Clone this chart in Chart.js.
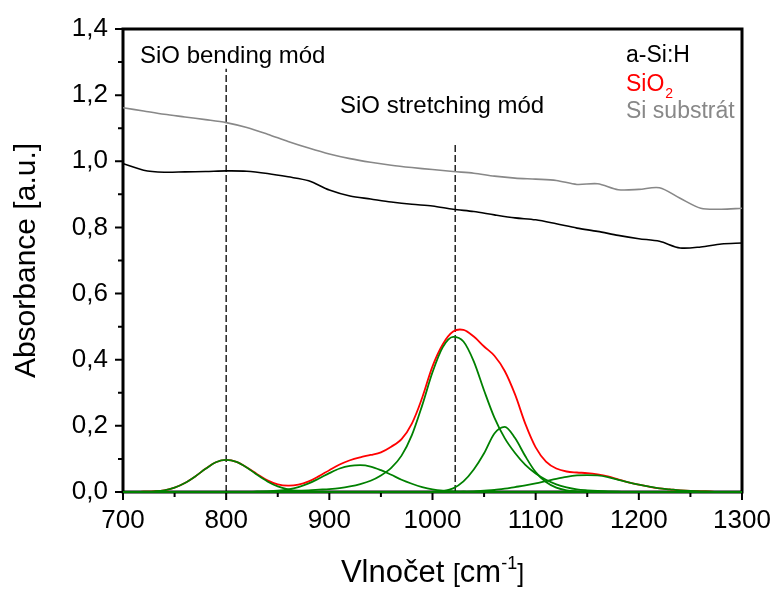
<!DOCTYPE html>
<html lang="cs">
<head>
<meta charset="UTF-8">
<title>Absorbance a-Si:H / SiO2</title>
<script src="https://cdn.jsdelivr.net/npm/chart.js@4.4.1/dist/chart.umd.min.js"></script>
<style>
  html, body { margin: 0; padding: 0; background: #fff; }
  #wrap { width: 776px; height: 590px; }
</style>
</head>
<body>
<div id="wrap"><canvas id="chart" width="776" height="590"></canvas></div>
<script>
// measured spectra (step 20 cm-1)
const specX = [700, 720, 740, 760, 780, 800, 820, 840, 860, 880, 900, 920, 940, 960, 980,
  1000, 1020, 1040, 1060, 1080, 1100, 1120, 1140, 1160, 1180, 1200, 1220, 1240, 1260, 1280, 1300]
const aSiH = [0.993, 0.973, 0.967, 0.968, 0.969, 0.971, 0.970, 0.963, 0.953, 0.941, 0.913, 0.895,
  0.886, 0.877, 0.870, 0.865, 0.855, 0.848, 0.838, 0.829, 0.823, 0.811, 0.798, 0.788, 0.776,
  0.766, 0.758, 0.738, 0.741, 0.750, 0.753]
const siSubstrate = [1.162, 1.152, 1.142, 1.134, 1.126, 1.117, 1.102, 1.082, 1.060, 1.040, 1.022,
  1.008, 0.997, 0.988, 0.981, 0.975, 0.969, 0.964, 0.955, 0.949, 0.946, 0.942, 0.930, 0.932,
  0.914, 0.915, 0.920, 0.888, 0.858, 0.855, 0.858]

// SiO2 band and its fitted components (step 10 cm-1)
const bandX = [700, 710, 720, 730, 740, 750, 760, 770, 780, 790, 800, 810, 820, 830, 840, 850,
  860, 870, 880, 890, 900, 910, 920, 930, 940, 950, 960, 970, 980, 990, 1000, 1010, 1020, 1030,
  1040, 1050, 1060, 1070, 1080, 1090, 1100, 1110, 1120, 1130, 1140, 1150, 1160, 1170, 1180,
  1190, 1200, 1210, 1220, 1230, 1240, 1250, 1260, 1270, 1280, 1290, 1300]
const sio2 = [0, 0, 0.001, 0.002, 0.005, 0.013, 0.027, 0.047, 0.070, 0.090, 0.097, 0.091, 0.074,
  0.054, 0.035, 0.023, 0.019, 0.022, 0.032, 0.048, 0.066, 0.083, 0.096, 0.105, 0.112, 0.120,
  0.137, 0.160, 0.207, 0.285, 0.380, 0.447, 0.485, 0.490, 0.470, 0.440, 0.412, 0.366, 0.295,
  0.206, 0.135, 0.092, 0.071, 0.062, 0.059, 0.057, 0.053, 0.047, 0.038, 0.029, 0.022, 0.016,
  0.011, 0.008, 0.005, 0.003, 0.002, 0.001, 0, 0, 0]
const band800 = [0, 0, 0.001, 0.002, 0.005, 0.013, 0.027, 0.047, 0.070, 0.090, 0.097, 0.091,
  0.074, 0.052, 0.032, 0.017, 0.008, 0.003, 0.001, 0, 0, 0, 0, 0, 0, 0, 0, 0, 0, 0, 0, 0, 0, 0,
  0, 0, 0, 0, 0, 0, 0, 0, 0, 0, 0, 0, 0, 0, 0, 0, 0, 0, 0, 0, 0, 0, 0, 0, 0, 0, 0]
const band930 = [0, 0, 0, 0, 0, 0, 0, 0, 0, 0, 0, 0, 0, 0.001, 0.002, 0.004, 0.008, 0.015, 0.026,
  0.041, 0.057, 0.071, 0.079, 0.081, 0.077, 0.066, 0.052, 0.037, 0.025, 0.015, 0.008, 0.004,
  0.002, 0.001, 0, 0, 0, 0, 0, 0, 0, 0, 0, 0, 0, 0, 0, 0, 0, 0, 0, 0, 0, 0, 0, 0, 0, 0, 0, 0, 0]
const band1022 = [0, 0, 0, 0, 0, 0, 0, 0, 0, 0, 0, 0, 0, 0.001, 0.001, 0.002, 0.003, 0.004, 0.005,
  0.007, 0.009, 0.012, 0.017, 0.024, 0.034, 0.050, 0.073, 0.110, 0.172, 0.262, 0.362, 0.438,
  0.469, 0.455, 0.395, 0.307, 0.225, 0.163, 0.118, 0.082, 0.056, 0.037, 0.023, 0.014, 0.008,
  0.005, 0.003, 0.002, 0.001, 0, 0, 0, 0, 0, 0, 0, 0, 0, 0, 0, 0]
const band1068 = [0, 0, 0, 0, 0, 0, 0, 0, 0, 0, 0, 0, 0, 0, 0, 0, 0, 0, 0, 0, 0, 0, 0, 0, 0, 0, 0,
  0, 0, 0, 0, 0.003, 0.011, 0.032, 0.068, 0.117, 0.177, 0.197, 0.163, 0.108, 0.060, 0.030, 0.013,
  0.005, 0.002, 0.001, 0, 0, 0, 0, 0, 0, 0, 0, 0, 0, 0, 0, 0, 0, 0]
const band1155 = [0, 0, 0, 0, 0, 0, 0, 0, 0, 0, 0, 0, 0, 0, 0, 0, 0, 0, 0, 0, 0, 0, 0, 0, 0, 0, 0,
  0, 0, 0, 0, 0, 0, 0.001, 0.002, 0.004, 0.006, 0.010, 0.015, 0.020, 0.026, 0.033, 0.040, 0.046,
  0.050, 0.051, 0.050, 0.045, 0.037, 0.029, 0.022, 0.016, 0.011, 0.008, 0.005, 0.003, 0.002,
  0.001, 0, 0, 0]

// vibration modes marked with dashed lines
const modeX = [800, 1022]
const modeTop = [1.28, 1.05]
const modeNames = ['SiO bending mód', 'SiO stretching mód']

const xTicks = [700, 800, 900, 1000, 1100, 1200, 1300]
const xTickLabels = ['700', '800', '900', '1000', '1100', '1200', '1300']
const yTicks = [0, 0.2, 0.4, 0.6, 0.8, 1.0, 1.2, 1.4]
const yTickLabels = ['0,0', '0,2', '0,4', '0,6', '0,8', '1,0', '1,2', '1,4']

const FONT = '"Liberation Sans", Arial, sans-serif'
const pts = (xs, ys) => xs.map((x, i) => ({ x: x, y: ys[i] }))

const fitColor = '#008000'
const fitLine = data => ({
  data: data, borderColor: fitColor, borderWidth: 1.8, clip: 4,
  cubicInterpolationMode: 'monotone'
})

const datasets = [
  fitLine(pts(bandX, band800)),
  fitLine(pts(bandX, band930)),
  fitLine(pts(bandX, band1022)),
  fitLine(pts(bandX, band1068)),
  fitLine(pts(bandX, band1155)),
  { data: pts(bandX, sio2), borderColor: '#ff0000', borderWidth: 1.8, clip: 4, tension: 0.35 },
  { data: pts(specX, aSiH), borderColor: '#000000', borderWidth: 1.6, tension: 0.3 },
  { data: pts(specX, siSubstrate), borderColor: '#888888', borderWidth: 1.6, tension: 0.3 }
]
modeX.forEach((m, i) => {
  datasets.push({
    data: [{ x: m, y: 0 }, { x: m, y: modeTop[i] }],
    borderColor: '#000', borderWidth: 1.3, borderDash: [7, 3], tension: 0
  })
})

// frame, tick marks, titles, labels and the text legend
const decor = {
  id: 'decor',
  beforeDatasetsDraw(chart) {
    const { ctx, chartArea: a, scales: { x, y } } = chart
    ctx.save()
    ctx.strokeStyle = '#000'
    ctx.lineWidth = 3
    ctx.strokeRect(a.left, a.top, a.right - a.left, a.bottom - a.top)
    ctx.lineWidth = 2
    ctx.beginPath()
    xTicks.forEach((v, i) => {
      const px = x.getPixelForValue(v)
      ctx.moveTo(px, a.bottom); ctx.lineTo(px, a.bottom + 8)
      if (i < xTicks.length - 1) {
        const mx = x.getPixelForValue((v + xTicks[i + 1]) / 2)
        ctx.moveTo(mx, a.bottom); ctx.lineTo(mx, a.bottom + 5)
      }
    })
    yTicks.forEach((v, i) => {
      const py = y.getPixelForValue(v)
      ctx.moveTo(a.left, py); ctx.lineTo(a.left - 8, py)
      if (i < yTicks.length - 1) {
        const my = y.getPixelForValue((v + yTicks[i + 1]) / 2)
        ctx.moveTo(a.left, my); ctx.lineTo(a.left - 5, my)
      }
    })
    ctx.stroke()
    ctx.restore()
  },
  afterDraw(chart) {
    const { ctx, chartArea: a } = chart
    ctx.save()
    ctx.fillStyle = '#000'
    ctx.textBaseline = 'alphabetic'

    // mode labels
    ctx.font = '24px ' + FONT
    ctx.textAlign = 'left'
    ctx.fillText(modeNames[0], 140, 62.5)
    ctx.fillText(modeNames[1], 340, 112.5)

    // legend (text only)
    ctx.font = '23px ' + FONT
    ctx.fillText('a-Si:H', 626, 62)
    ctx.fillStyle = '#ff0000'
    ctx.fillText('SiO', 626, 91)
    const w = ctx.measureText('SiO').width
    ctx.font = '14px ' + FONT
    ctx.fillText('2', 626 + w + 1, 98)
    ctx.font = '23px ' + FONT
    ctx.fillStyle = '#888888'
    ctx.fillText('Si substrát', 626, 117.5)

    // y title
    ctx.fillStyle = '#000'
    ctx.save()
    ctx.translate(35, (a.top + a.bottom) / 2)
    ctx.rotate(-Math.PI / 2)
    ctx.textAlign = 'center'
    ctx.font = '30px ' + FONT
    ctx.fillText('Absorbance [a.u.]', 0, 0)
    ctx.restore()

    // x title with smaller brackets and superscript
    const parts = [
      { t: 'Vlnočet ', s: 31, dy: 0 },
      { t: '[', s: 25, dy: 0 },
      { t: 'cm', s: 31, dy: 0 },
      { t: '-1', s: 18, dy: -13 },
      { t: ']', s: 25, dy: 0 }
    ]
    let total = 0
    parts.forEach(p => { ctx.font = p.s + 'px ' + FONT; p.w = ctx.measureText(p.t).width; total += p.w })
    let cx = (a.left + a.right) / 2 - total / 2
    ctx.textAlign = 'left'
    parts.forEach(p => {
      ctx.font = p.s + 'px ' + FONT
      ctx.fillText(p.t, cx, 582 + p.dy)
      cx += p.w
    })
    ctx.restore()
  }
}

Chart.defaults.font.family = FONT

new Chart(document.getElementById('chart'), {
  type: 'line',
  data: { datasets: datasets },
  options: {
    responsive: false,
    animation: false,
    layout: { padding: { left: 0, top: 29, right: 34, bottom: 0 } },
    elements: { point: { radius: 0 } },
    plugins: { legend: { display: false }, tooltip: { enabled: false } },
    scales: {
      x: {
        type: 'linear', min: 700, max: 1300,
        afterFit: s => { s.height = 98; s.paddingLeft = 0; s.paddingRight = 0 },
        afterBuildTicks: s => { s.ticks = xTicks.map(v => ({ value: v })) },
        ticks: {
          callback: (v, i) => xTickLabels[i],
          font: { size: 26 }, color: '#000', padding: 13, maxRotation: 0, autoSkip: false
        },
        grid: { display: false, drawTicks: false },
        border: { display: false }
      },
      y: {
        type: 'linear', min: 0, max: 1.4,
        afterFit: s => { s.width = 123; s.paddingTop = 0; s.paddingBottom = 0 },
        afterBuildTicks: s => { s.ticks = yTicks.map(v => ({ value: v })) },
        ticks: {
          callback: (v, i) => yTickLabels[i],
          font: { size: 26 }, color: '#000', padding: 15, autoSkip: false
        },
        grid: { display: false, drawTicks: false },
        border: { display: false }
      }
    }
  },
  plugins: [decor]
})
</script>
</body>
</html>
